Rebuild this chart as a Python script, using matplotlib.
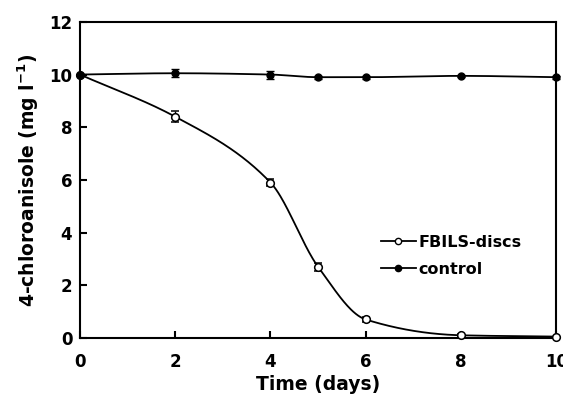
import numpy as np
import matplotlib
matplotlib.use("Agg")
import matplotlib.pyplot as plt

days = [0, 2, 4, 5, 6, 8, 10]
fbils = [10.0, 8.4, 5.9, 2.7, 0.7, 0.1, 0.05]
fbils_err = [0.0, 0.2, 0.15, 0.15, 0.1, 0.05, 0.0]
control = [10.0, 10.05, 10.0, 9.9, 9.9, 9.95, 9.9]
control_err = [0.0, 0.15, 0.15, 0.05, 0.05, 0.05, 0.05]
xticks = [0, 2, 4, 6, 8, 10]
yticks = [0, 2, 4, 6, 8, 10, 12]


def pchip(x, y, xs):
    x = np.asarray(x, float); y = np.asarray(y, float)
    h = np.diff(x); d = np.diff(y) / h
    m = np.zeros_like(y)
    for k in range(1, len(x) - 1):
        if d[k - 1] * d[k] > 0:
            w1 = 2 * h[k] + h[k - 1]; w2 = h[k] + 2 * h[k - 1]
            m[k] = (w1 + w2) / (w1 / d[k - 1] + w2 / d[k])
    m[0] = d[0]; m[-1] = d[-1]
    out = np.empty_like(xs)
    for i, xv in enumerate(xs):
        k = min(np.searchsorted(x, xv, side="right") - 1, len(x) - 2)
        t = (xv - x[k]) / h[k]
        h00 = 2*t**3 - 3*t**2 + 1; h10 = t**3 - 2*t**2 + t
        h01 = -2*t**3 + 3*t**2; h11 = t**3 - t**2
        out[i] = h00*y[k] + h10*h[k]*m[k] + h01*y[k+1] + h11*h[k]*m[k+1]
    return out


plt.rcParams['font.family'] = ['DejaVu Sans']
plt.rcParams['font.weight'] = 'bold'
plt.rcParams['mathtext.default'] = 'bf'

fig = plt.figure(figsize=(5.63, 3.98), dpi=100)
ax = fig.add_axes([0.142, 0.151, 0.846, 0.794])

xs = np.linspace(0, 10, 400)
ax.plot(xs, pchip(days, fbils, xs), color='black', lw=1.3, zorder=2)
ax.plot(xs, pchip(days, control, xs), color='black', lw=1.3, zorder=2)

ax.errorbar(days, fbils, yerr=fbils_err, fmt='o', mfc='white', mec='black',
            ms=5.5, mew=1.1, ecolor='black', elinewidth=1, capsize=3, zorder=3,
            clip_on=False)
ax.errorbar(days, control, yerr=control_err, fmt='o', mfc='black', mec='black',
            ms=5, ecolor='black', elinewidth=1, capsize=3, zorder=3, clip_on=False)

h1, = ax.plot([], [], '-o', color='black', mfc='white', ms=4.5, lw=1.3, label='FBILS-discs')
h2, = ax.plot([], [], '-o', color='black', mfc='black', ms=4.5, lw=1.3, label='control')
ax.legend(handles=[h1, h2], loc='center left', bbox_to_anchor=(0.615, 0.26), frameon=False,
          prop={'family': 'DejaVu Sans', 'weight': 'bold', 'size': 11.5},
          handlelength=2.2, handletextpad=0.15, labelspacing=0.75, borderpad=0)

ax.set_xlim(0, 10)
ax.set_ylim(0, 12)
ax.set_xticks(xticks)
ax.set_yticks(yticks)
ax.tick_params(direction='in', length=5, width=1.5, labelsize=12,
               top=False, right=False)
ax.tick_params(axis='x', pad=11)
ax.tick_params(axis='y', pad=5.5)
for s in ax.spines.values():
    s.set_linewidth(1.5)
ax.set_xlabel('Time (days)', fontsize=13.5, fontweight='bold', labelpad=3)
ax.set_ylabel('4-chloroanisole (mg l$^{\\mathregular{-1}}$)', fontsize=13.5,
              fontweight='bold', labelpad=6)

fig.savefig('out.png', dpi=100)
